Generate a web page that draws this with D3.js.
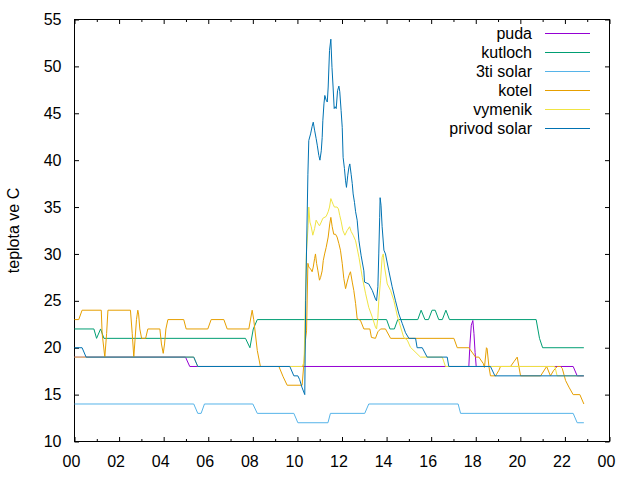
<!DOCTYPE html>
<html>
<head>
<meta charset="utf-8">
<script src="https://cdn.jsdelivr.net/npm/d3@7"></script>
<style>
  html, body { margin: 0; padding: 0; background: #fff; }
  svg { display: block; }
</style>
</head>
<body>
<svg id="chart" width="640" height="480"></svg>
<script>
// ---------- data (time in decimal hours, temperature in °C) ----------
const seriesNames = ["puda", "kutloch", "3ti solar", "kotel", "vymenik", "privod solar"];
const seriesColors = ["#9400d3", "#009e73", "#56b4e9", "#e69f00", "#f0e442", "#0072b2"];

const xTickValues = [0, 2, 4, 6, 8, 10, 12, 14, 16, 18, 20, 22, 24];
const xTickLabels = ["00", "02", "04", "06", "08", "10", "12", "14", "16", "18", "20", "22", "00"];
const xMinorTicks = [1, 3, 5, 7, 9, 11, 13, 15, 17, 19, 21, 23];
const yTickValues = [10, 15, 20, 25, 30, 35, 40, 45, 50, 55];

const pudaTime = [0, 4.98, 5.17, 17.69, 17.74, 17.80, 17.87, 17.92, 17.97, 18.02, 22.37, 22.55, 22.85];
const pudaTemp = [19, 19, 18, 18, 20.4, 22.4, 22.9, 21.5, 19.5, 18, 18, 17, 17];

const kutlochTime = [0, 0.87, 0.99, 1.17, 1.32, 7.67, 7.87, 8.02, 8.2, 14.0, 14.15, 14.35, 14.5,
  15.40, 15.55, 15.72, 15.88, 16.04, 16.18, 16.34, 16.50, 16.66, 16.82, 20.71, 20.86, 21.0, 22.85];
const kutlochTemp = [22, 22, 21, 22, 21, 21, 20, 22, 23, 23, 22, 22, 23,
  23, 24, 23, 23, 24, 24, 23, 23, 24, 23, 23, 21, 20, 20];

const solar3Time = [0, 5.35, 5.53, 5.68, 5.83, 8.0, 8.2, 9.84, 10.02, 11.37, 11.48, 13.02, 13.2, 17.21, 17.32, 22.37, 22.55, 22.85];
const solar3Temp = [14, 14, 13, 13, 14, 14, 13, 13, 12, 12, 13, 13, 14, 14, 13, 13, 12, 12];

const kotelTime = [0, 0.19, 0.34, 1.20, 1.24, 1.36, 1.44, 1.50, 2.51, 2.59, 2.66, 2.72, 2.78, 2.84, 2.88, 2.93,
  3.01, 3.19, 3.29, 3.83, 3.90, 3.98, 4.04, 4.10, 4.19, 4.90, 5.01, 5.98, 6.13, 6.70, 6.85, 7.82, 7.97, 8.04,
  8.20, 8.34, 9.17, 9.36, 9.54, 10.21, 10.29, 10.36, 10.41, 10.47, 10.51, 10.59, 10.66, 10.71, 10.77, 10.81,
  10.86, 10.92, 10.99, 11.04, 11.11, 11.16, 11.22, 11.29, 11.38, 11.45, 11.50, 11.56, 11.63, 11.71, 11.78,
  11.86, 11.93, 12.01, 12.08, 12.16, 12.23, 12.31, 12.38, 12.46, 12.53, 12.61, 12.68, 12.83, 12.98, 13.25,
  13.32, 13.50, 13.61, 13.73, 13.95, 14.18, 17.02, 17.17, 17.69, 17.99, 18.14, 18.34, 18.39, 18.48, 18.51,
  18.59, 18.66, 18.89, 19.04, 19.11, 19.56, 19.71, 19.86, 20.01, 20.91, 21.18, 21.35, 21.50, 21.66, 21.80,
  21.88, 22.03, 22.18, 22.37, 22.67, 22.85];
const kotelTemp = [23, 23, 24, 24, 21.5, 19, 21.5, 24, 24, 21.5, 19, 21, 23, 24, 23.5, 22,
  21, 21, 22, 22, 20.4, 19.4, 20.4, 22, 23, 23, 22, 22, 23, 23, 22, 22, 24, 23,
  19.7, 18, 18, 16.9, 16, 16, 18.3, 20.8, 21.8, 29.0, 28.6, 28.4, 28.1, 28.6, 29.5, 30.0,
  29.0, 28.2, 27.2, 27.5, 28.2, 29.3, 30.0, 30.7, 31.8, 33.2, 33.9, 32.9, 32.1, 32.1, 31.8,
  31.1, 30.4, 29.0, 27.4, 26.3, 27.0, 27.7, 28.1, 27.0, 26.1, 24.7, 23.1, 22.9, 22, 22,
  21.1, 21, 21.7, 22, 22, 21, 21, 20, 20, 19, 19, 18.3, 17.9, 20, 19.9,
  18, 17, 17, 17.6, 18, 18, 18.5, 19, 17, 17, 18, 17, 17.6, 18, 18,
  17.8, 16.5, 15.8, 15, 15, 14];

const vymenikTime = [0, 5.35, 5.53, 10.22, 10.30, 10.40, 10.48, 10.51, 10.56, 10.62, 10.69, 10.77, 10.84,
  10.91, 10.99, 11.07, 11.14, 11.29, 11.38, 11.44, 11.50, 11.55, 11.60, 11.66, 11.78, 11.84, 11.90, 11.96,
  12.04, 12.13, 12.23, 12.34, 12.41, 12.50, 12.61, 12.76, 12.91, 13.06, 13.20, 13.36, 13.50, 13.55, 13.61,
  13.65, 13.73, 13.80, 13.85, 13.91, 14.03, 14.18, 14.33, 14.48, 14.63, 14.77, 14.93, 15.07, 15.52, 16.50,
  16.64, 21.55, 21.65, 22.85];
const vymenikTemp = [19, 19, 18, 18, 18.5, 30, 33, 35.0, 33.4, 32.9, 32.0, 32.7, 33.6,
  33.3, 33.0, 33.4, 33.8, 34.0, 34.5, 35.0, 35.9, 35.6, 35.3, 35.0, 35.0, 34.8, 34.1, 33.5,
  32.5, 32.0, 32.5, 32.9, 32.4, 32.0, 31.4, 29.65, 27.5, 25.75, 24.3, 23.25, 22.2, 22.0, 23.25,
  25.0, 27.2, 29.65, 30.0, 28.6, 26.8, 26.1, 25.0, 23.4, 22.2, 21.1, 20.8, 20.05, 19, 19,
  18, 18, 17, 17];

const privodTime = [0, 0.34, 0.52, 5.35, 5.53, 9.66, 9.84, 10.02, 10.10, 10.20, 10.33, 10.37, 10.47, 10.51,
  10.59, 10.66, 10.71, 10.77, 10.84, 10.89, 10.96, 11.01, 11.07, 11.11, 11.14, 11.19, 11.23, 11.29, 11.34,
  11.38, 11.44, 11.50, 11.55, 11.60, 11.65, 11.69, 11.74, 11.80, 11.86, 11.90, 11.96, 12.01, 12.05, 12.11,
  12.16, 12.20, 12.26, 12.31, 12.35, 12.41, 12.46, 12.50, 12.56, 12.61, 12.68, 12.76, 12.86, 12.98, 13.01,
  13.20, 13.36, 13.50, 13.55, 13.61, 13.65, 13.69, 13.71, 13.75, 13.80, 13.88, 13.95, 14.10, 14.25, 14.40,
  14.55, 14.70, 14.85, 15.0, 15.30, 15.37, 15.60, 15.82, 16.72, 16.79, 18.66, 18.86, 22.85];
const privodTemp = [20, 20, 19, 19, 18, 18, 17, 17, 16.6, 15.8, 15, 25, 38.5, 42.1,
  42.8, 43.6, 44.05, 43.2, 42.3, 41.6, 40.5, 40.0, 41.0, 42.4, 44.2, 46.0, 46.9, 46.4, 46.2,
  47.8, 51.7, 52.9, 49.9, 47.8, 45.5, 45.7, 45.5, 47.4, 47.9, 47.3, 45.3, 43.5, 40.3, 39.1,
  37.8, 37.1, 38.4, 39.25, 39.6, 38.5, 37.5, 36.4, 35.5, 34.5, 33.6, 31.4, 29.8, 28.2, 27.0,
  26.8, 26.1, 25.2, 25.0, 26.5, 30.0, 33.9, 36.0, 35.2, 32.9, 30.4, 30.0, 28.2, 26.5, 25.0,
  23.6, 22.6, 21.6, 21, 21, 20, 20, 19, 19, 18, 18, 17, 17];

const seriesTimes = [pudaTime, kutlochTime, solar3Time, kotelTime, vymenikTime, privodTime];
const seriesTemps = [pudaTemp, kutlochTemp, solar3Temp, kotelTemp, vymenikTemp, privodTemp];

// ---------- drawing ----------
const FONT = "'Liberation Sans', Arial, Helvetica, sans-serif";
const FS = 16;
const svg = d3.select("#chart");
const L = 74.5, R = 609.5, T = 19.5, B = 441.5;

const x = d3.scaleLinear().domain([0, 24]).range([L, R]);
const y = d3.scaleLinear().domain([10, 55]).range([B, T]);

function styleAxis(g) {
  g.select(".domain").remove();
  g.selectAll("line").attr("stroke", "#000").attr("stroke-width", 1);
  g.attr("font-family", FONT).attr("font-size", FS);
  g.selectAll("text").attr("fill", "#000");
}

// bottom axis (major, labeled)
svg.append("g").attr("transform", `translate(0,${B})`)
  .call(d3.axisBottom(x).tickValues(xTickValues).tickFormat((d, i) => xTickLabels[i]).tickSize(-4.5).tickPadding(14))
  .call(styleAxis)
  .call(g => g.selectAll("text").attr("dx", -3.5));
// bottom minor
svg.append("g").attr("transform", `translate(0,${B})`)
  .call(d3.axisBottom(x).tickValues(xMinorTicks).tickFormat("").tickSize(-2.5))
  .call(styleAxis);
// top mirror
svg.append("g").attr("transform", `translate(0,${T})`)
  .call(d3.axisTop(x).tickValues(xTickValues).tickFormat("").tickSize(-4.5))
  .call(styleAxis);
svg.append("g").attr("transform", `translate(0,${T})`)
  .call(d3.axisTop(x).tickValues(xMinorTicks).tickFormat("").tickSize(-2.5))
  .call(styleAxis);
// left axis
svg.append("g").attr("transform", `translate(${L},0)`)
  .call(d3.axisLeft(y).tickValues(yTickValues).tickFormat(d3.format("d")).tickSize(-4.5).tickPadding(13))
  .call(styleAxis);
// right mirror
svg.append("g").attr("transform", `translate(${R},0)`)
  .call(d3.axisRight(y).tickValues(yTickValues).tickFormat("").tickSize(-4.5))
  .call(styleAxis);

// border
svg.append("rect").attr("x", L).attr("y", T).attr("width", R - L).attr("height", B - T)
  .attr("fill", "none").attr("stroke", "#000").attr("stroke-width", 1);

// y-axis title
svg.append("text")
  .attr("transform", `translate(19,${(T + B) / 2}) rotate(-90)`)
  .attr("text-anchor", "middle")
  .attr("font-family", FONT).attr("font-size", FS).attr("fill", "#000")
  .text("teplota ve C");

// series lines
const line = d3.line().x(d => x(d[0])).y(d => y(d[1]));
seriesNames.forEach((name, i) => {
  const pts = seriesTimes[i].map((t, j) => [t, seriesTemps[i][j]]);
  svg.append("path").datum(pts)
    .attr("fill", "none")
    .attr("stroke", seriesColors[i])
    .attr("stroke-width", 1)
    .attr("stroke-linejoin", "miter")
    .attr("d", line);
});

// legend
const legend = svg.append("g");
seriesNames.forEach((name, i) => {
  const cy = 33 + i * 19;
  legend.append("text")
    .attr("x", 532).attr("y", cy + 5.5)
    .attr("text-anchor", "end")
    .attr("font-family", FONT).attr("font-size", FS).attr("fill", "#000")
    .text(name);
  legend.append("line")
    .attr("x1", 545).attr("x2", 590).attr("y1", cy + 0.5).attr("y2", cy + 0.5)
    .attr("stroke", seriesColors[i]).attr("stroke-width", 1);
});
</script>
</body>
</html>
